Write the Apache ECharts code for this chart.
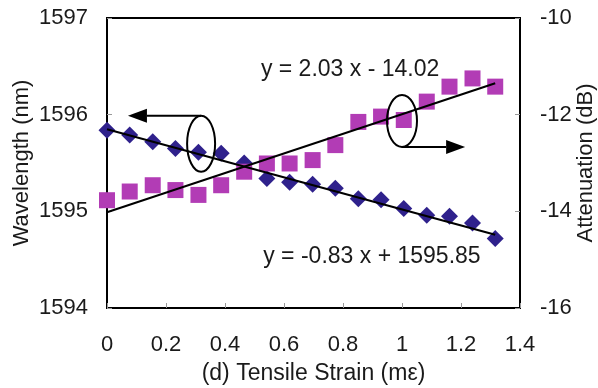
<!DOCTYPE html>
<html>
<head>
<meta charset="utf-8">
<script src="https://cdn.jsdelivr.net/npm/echarts@6/dist/echarts.min.js"></script>
<style>
  html, body { margin: 0; padding: 0; background: #fff; }
  #main { width: 598px; height: 388px; }
</style>
</head>
<body>
<div id="main"></div>
<script>
// Tensile strain (mε) for each measurement step
const strain = [0, 0.077, 0.155, 0.232, 0.310, 0.387, 0.465, 0.542, 0.619, 0.697, 0.774, 0.852, 0.929, 1.006, 1.084, 1.161, 1.239, 1.316];
// Resonance wavelength (nm), left axis
const wavelength = [1595.84, 1595.79, 1595.72, 1595.65, 1595.61, 1595.60, 1595.50, 1595.34, 1595.30, 1595.28, 1595.24, 1595.13, 1595.12, 1595.03, 1594.96, 1594.95, 1594.88, 1594.72];
// Attenuation (dB), right axis
const attenuation = [-13.77, -13.59, -13.46, -13.56, -13.66, -13.46, -13.18, -13.01, -13.01, -12.94, -12.63, -12.15, -12.04, -12.11, -11.73, -11.42, -11.25, -11.42];

// Linear fits
const fitWavelength = { slope: -0.83, intercept: 1595.85 };
const fitAttenuation = { slope: 2.03, intercept: -14.02 };

// Axis ticks
const xTicks = { min: 0, max: 1.4, interval: 0.2 };
const leftTicks = { min: 1594, max: 1597, interval: 1 };
const rightTicks = { min: -16, max: -10, interval: 2 };

const FONT = 'Arial, "Liberation Sans", sans-serif';
const TEXT = '#1a1a1a';

function fitLine(fit) {
  const x0 = strain[0], x1 = strain[strain.length - 1];
  return [[x0, fit.intercept + fit.slope * x0], [x1, fit.intercept + fit.slope * x1]];
}

function fmtEq(fit) {
  const s = fit.slope.toFixed(2);
  const b = Math.abs(fit.intercept).toFixed(2);
  return 'y = ' + s + ' x ' + (fit.intercept < 0 ? '- ' : '+ ') + b;
}

const chart = echarts.init(document.getElementById('main'), null, { renderer: 'canvas' });

const tickStyle = { show: true, inside: true, length: 5, lineStyle: { color: '#999', width: 1 } };
const labelStyle = { color: TEXT, fontSize: 22, fontFamily: FONT };
const plain = v => String(+v.toFixed(1));

chart.setOption({
  animation: false,
  backgroundColor: '#fff',
  grid: {
    left: 107, right: 78, top: 18, bottom: 80,
    outerBoundsMode: 'none', containLabel: false,
    show: true, borderColor: '#000', borderWidth: 2
  },
  xAxis: {
    type: 'value', min: xTicks.min, max: xTicks.max, interval: xTicks.interval,
    axisLine: { show: true, lineStyle: { color: '#000', width: 2 } },
    axisTick: tickStyle,
    splitLine: { show: false },
    axisLabel: Object.assign({ margin: 26, formatter: plain }, labelStyle),
    name: '(d) Tensile Strain (m\u03b5)', nameLocation: 'middle', nameGap: 54, nameMoveOverlap: false,
    nameTextStyle: { color: TEXT, fontSize: 23, fontFamily: FONT }
  },
  yAxis: [
    {
      type: 'value', min: leftTicks.min, max: leftTicks.max, interval: leftTicks.interval,
      axisLine: { show: true, lineStyle: { color: '#000', width: 2 } },
      axisTick: tickStyle,
      splitLine: { show: false },
      axisLabel: Object.assign({ margin: 19, formatter: plain }, labelStyle),
      name: 'Wavelength (nm)', nameLocation: 'middle', nameGap: 74, nameRotate: 90, nameMoveOverlap: false,
      nameTextStyle: { color: TEXT, fontSize: 22, fontFamily: FONT }
    },
    {
      type: 'value', position: 'right', min: rightTicks.min, max: rightTicks.max, interval: rightTicks.interval,
      axisLine: { show: true, lineStyle: { color: '#000', width: 2 } },
      axisTick: tickStyle,
      splitLine: { show: false },
      axisLabel: Object.assign({ margin: 20, formatter: plain }, labelStyle),
      name: 'Attenuation (dB)', nameLocation: 'middle', nameGap: 55, nameRotate: 90, nameMoveOverlap: false,
      nameTextStyle: { color: TEXT, fontSize: 22, fontFamily: FONT }
    }
  ],
  series: [
    {
      name: 'Wavelength', type: 'scatter', yAxisIndex: 0,
      symbol: 'diamond', symbolSize: 17,
      itemStyle: { color: '#2f218c', opacity: 1 },
      data: strain.map((x, i) => [x, wavelength[i]]), z: 2
    },
    {
      name: 'Attenuation', type: 'scatter', yAxisIndex: 1,
      symbol: 'rect', symbolSize: 16,
      itemStyle: { color: '#b23cb5', opacity: 1 },
      data: strain.map((x, i) => [x, attenuation[i]]), z: 2
    },
    {
      name: 'Wavelength fit', type: 'line', yAxisIndex: 0, showSymbol: false, silent: true,
      lineStyle: { color: '#000', width: 2 }, data: fitLine(fitWavelength), z: 3
    },
    {
      name: 'Attenuation fit', type: 'line', yAxisIndex: 1, showSymbol: false, silent: true,
      lineStyle: { color: '#000', width: 2 }, data: fitLine(fitAttenuation), z: 3
    }
  ]
});

// Ellipse + arrow callouts pointing to the axis each series belongs to,
// plus the fit equations; anchored in data coordinates.
const callouts = [
  { yAxis: 0, cx: 0.319, cy: 1595.70, rx: 14, ry: 28, from: 'top', toX: 0.071 },
  { yAxis: 1, cx: 1.0, cy: -12.13, rx: 15, ry: 26, from: 'bottom', toX: 1.214 }
];
const equations = [
  { yAxis: 1, x: 0.824, y: -11.06, fit: fitAttenuation },
  { yAxis: 0, x: 0.898, y: 1594.53, fit: fitWavelength }
];

function toPx(x, y, yAxis) {
  return chart.convertToPixel({ xAxisIndex: 0, yAxisIndex: yAxis }, [x, y]);
}

const graphics = [];
callouts.forEach(c => {
  const [cx, cy] = toPx(c.cx, c.cy, c.yAxis);
  graphics.push({
    type: 'ellipse', shape: { cx, cy, rx: c.rx, ry: c.ry },
    style: { fill: 'none', stroke: '#000', lineWidth: 2 }, z: 10
  });
  const ay = c.from === 'top' ? cy - c.ry : cy + c.ry;
  const tipX = toPx(c.toX, c.cy, c.yAxis)[0];
  const dir = tipX < cx ? -1 : 1;
  const headLen = 19, headHalf = 7;
  graphics.push({
    type: 'line', shape: { x1: cx, y1: ay, x2: tipX - dir * headLen, y2: ay },
    style: { stroke: '#000', lineWidth: 2 }, z: 10
  });
  graphics.push({
    type: 'polygon',
    shape: { points: [[tipX, ay], [tipX - dir * headLen, ay - headHalf], [tipX - dir * headLen, ay + headHalf]] },
    style: { fill: '#000' }, z: 10
  });
});
equations.forEach(e => {
  const [x, y] = toPx(e.x, e.y, e.yAxis);
  graphics.push({
    type: 'text', x, y, z: 10,
    style: { text: fmtEq(e.fit), fill: TEXT, font: '23px ' + FONT, textAlign: 'center', textVerticalAlign: 'middle' }
  });
});
chart.setOption({ graphic: graphics });
</script>
</body>
</html>
